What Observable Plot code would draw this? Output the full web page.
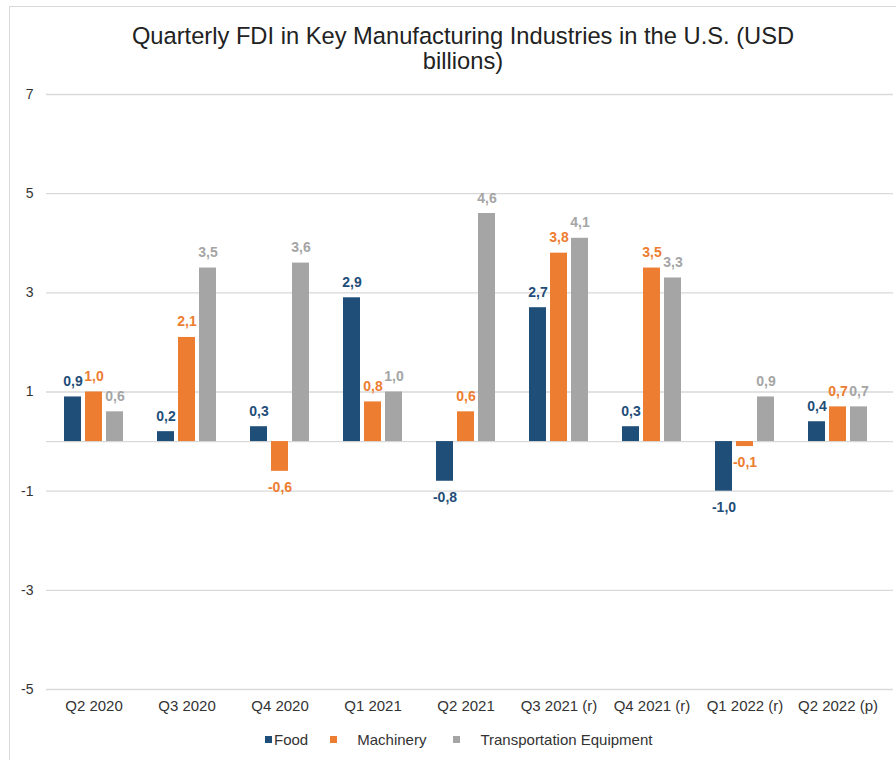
<!DOCTYPE html>
<html><head><meta charset="utf-8">
<script src="https://cdn.jsdelivr.net/npm/d3@7"></script>
<script src="https://cdn.jsdelivr.net/npm/@observablehq/plot@0.6"></script>
<style>
body{margin:0;background:#fff;font-family:"Liberation Sans",Arial,sans-serif;}
#wrap{position:relative;width:896px;height:760px;overflow:hidden;background:#fff;}
#frame{position:absolute;left:9px;top:6px;width:1000px;height:1000px;border-top:1px solid #d9d9d9;border-left:1px solid #d9d9d9;}
#title{position:absolute;left:30px;width:866px;top:24px;text-align:center;font-size:23.7px;line-height:25px;color:#222;}
#chart{position:absolute;left:0;top:80px;}
#legend{position:absolute;top:731px;left:265px;display:flex;align-items:center;font-size:15px;color:#333;white-space:nowrap;}
.sw{width:7px;height:7px;display:inline-block;}
</style>
</head><body>
<div id="wrap">
<div id="frame"></div>
<div id="title">Quarterly FDI in Key Manufacturing Industries in the U.S. (USD<br>billions)</div>
<div id="chart"></div>
<div id="legend"></div>
</div>
<script>
const quarters = ["Q2 2020","Q3 2020","Q4 2020","Q1 2021","Q2 2021","Q3 2021 (r)","Q4 2021 (r)","Q1 2022 (r)","Q2 2022 (p)"];
const food = [0.9, 0.2, 0.3, 2.9, -0.8, 2.7, 0.3, -1.0, 0.4];
const machinery = [1.0, 2.1, -0.6, 0.8, 0.6, 3.8, 3.5, -0.1, 0.7];
const transport = [0.6, 3.5, 3.6, 1.0, 4.6, 4.1, 3.3, 0.9, 0.7];
const seriesNames = ["Food", "Machinery", "Transportation Equipment"];
const seriesColors = ["#1F4E79", "#ED7D31", "#A5A5A5"];
const yTicks = [-5, -3, -1, 1, 3, 5, 7];

const seriesValues = [food, machinery, transport];
const offsets = [-21, 0, 21];
const fmt = v => v.toFixed(1).replace(".", ",");

const marks = [
  Plot.ruleY(yTicks, {stroke: "#d9d9d9", strokeWidth: 1.3}),
  Plot.ruleY([0], {stroke: "#d9d9d9", strokeWidth: 1.3})
];
seriesValues.forEach((vals, i) => {
  const data = quarters.map((q, j) => ({q, v: vals[j]}));
  marks.push(Plot.barY(data, {x: "q", y: "v", fill: seriesColors[i], dx: offsets[i]}));
  marks.push(Plot.text(data.filter(d => d.v >= 0), {x: "q", y: "v", text: d => fmt(d.v), dx: offsets[i], dy: -11, lineAnchor: "bottom", fill: seriesColors[i], fontWeight: "bold", fontSize: 14}));
  marks.push(Plot.text(data.filter(d => d.v < 0), {x: "q", y: "v", text: d => fmt(d.v), dx: offsets[i], dy: 11, lineAnchor: "top", fill: seriesColors[i], fontWeight: "bold", fontSize: 14}));
});
marks.push(Plot.axisY(yTicks, {tickSize: 0, tickPadding: 13, fontSize: 14, label: null, fill: "#333", tickFormat: d => String(d)}));
marks.push(Plot.axisX({tickSize: 0, tickPadding: 11, fontSize: 15, label: null, fill: "#333"}));

const chart = Plot.plot({
  width: 896,
  height: 640,
  marginTop: 14,
  marginBottom: 31,
  marginLeft: 46,
  marginRight: 3,
  style: {fontFamily: "'Liberation Sans', Arial, sans-serif", background: "transparent", color: "#333"},
  x: {domain: quarters, paddingInner: 0.818, paddingOuter: 0.443, align: 0.453, label: null},
  y: {domain: [-5, 7], label: null},
  marks
});
document.getElementById("chart").appendChild(chart);

const legend = document.getElementById("legend");
const gaps = [[2, 22], [20, 27], [20, 0]];
seriesNames.forEach((name, i) => {
  const sw = document.createElement("span");
  sw.className = "sw";
  sw.style.background = seriesColors[i];
  sw.style.marginRight = gaps[i][0] + "px";
  const t = document.createElement("span");
  t.textContent = name;
  t.style.marginRight = gaps[i][1] + "px";
  legend.appendChild(sw);
  legend.appendChild(t);
});
</script>
</body></html>
